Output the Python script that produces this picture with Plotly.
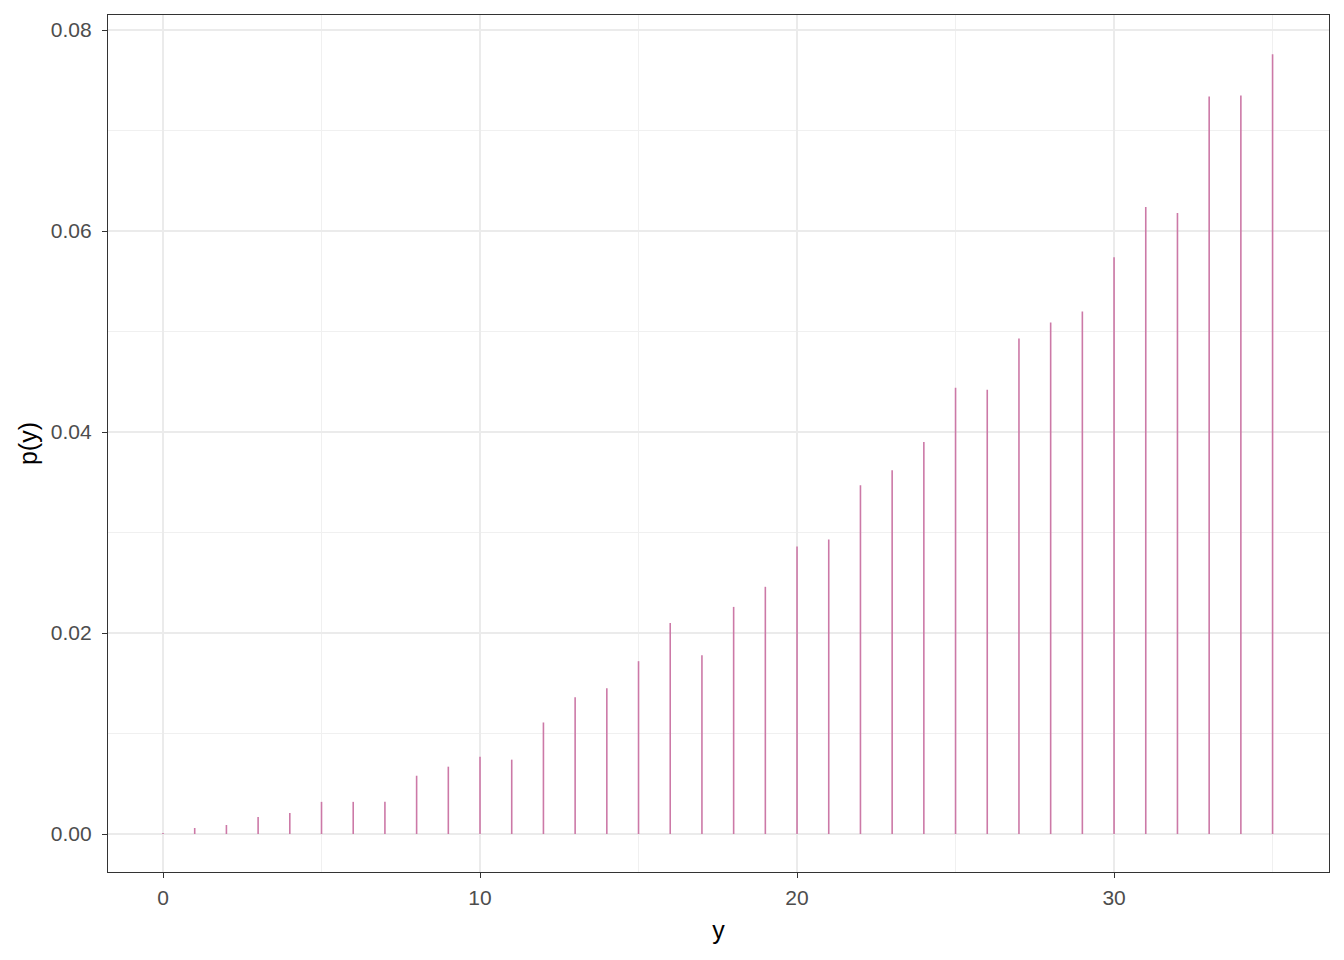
import plotly.graph_objects as go

# outcome values and their probabilities p(y)
y_vals = list(range(36))
p_vals = [0.0001, 0.0006, 0.0009, 0.0017, 0.0021, 0.0032, 0.0032, 0.0032,
          0.0058, 0.0067, 0.0077, 0.0074, 0.0111, 0.0136, 0.0145, 0.0172,
          0.0210, 0.0178, 0.0226, 0.0246, 0.0286, 0.0293, 0.0347, 0.0362,
          0.0390, 0.0444, 0.0442, 0.0493, 0.0509, 0.0520, 0.0574, 0.0624,
          0.0618, 0.0734, 0.0735, 0.0776]
x_ticks = [0, 10, 20, 30]
y_ticks = [0.00, 0.02, 0.04, 0.06, 0.08]

# build vertical segments from 0 to p(y)
seg_x, seg_y = [], []
for x, p in zip(y_vals, p_vals):
    seg_x += [x, x, None]
    seg_y += [0, p, None]

fig = go.Figure()
fig.add_trace(go.Scatter(x=seg_x, y=seg_y, mode='lines',
                         line=dict(color='#CC79A7', width=1.6),
                         hoverinfo='skip', showlegend=False))

axis_common = dict(
    showline=True, mirror=True, linecolor='#333333', linewidth=1.2,
    ticks='outside', ticklen=5, tickcolor='#333333', tickwidth=1.2,
    gridcolor='#EBEBEB', gridwidth=1.6, zeroline=False,
    tickfont=dict(size=21, color='#4D4D4D'),
    title_font=dict(size=25, color='black'),
)

fig.update_xaxes(
    range=[-1.735, 36.78], tickvals=x_ticks, title_text='y',
    minor=dict(tickvals=[5, 15, 25, 35], showgrid=True, gridcolor='#F0F0F0',
               gridwidth=0.9, ticklen=0),
    title_standoff=13, ticklabelstandoff=2,
    **axis_common)
fig.update_yaxes(
    range=[-0.00378, 0.0815], tickvals=y_ticks, tickformat='.2f', title_text='p(y)',
    minor=dict(tickvals=[0.01, 0.03, 0.05, 0.07], showgrid=True, gridcolor='#F0F0F0',
               gridwidth=0.9, ticklen=0),
    title_standoff=6, ticklabelstandoff=6,
    **axis_common)

# page body adds an 8px offset, so the figure is a bit smaller than the window
fig.update_layout(
    width=1336, height=952,
    margin=dict(l=100, r=15, t=7, b=88),
    plot_bgcolor='white', paper_bgcolor='white',
    font=dict(family='Liberation Sans, Arial, sans-serif'),
)

fig.write_html("out.html")
